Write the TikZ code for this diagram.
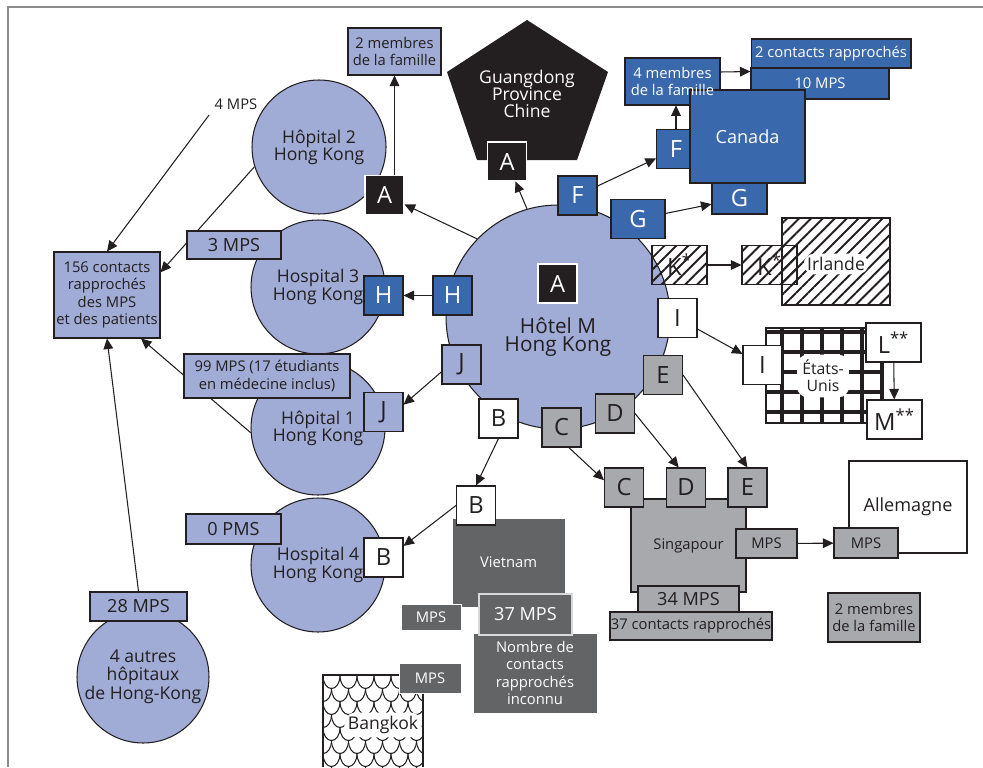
\documentclass[tikz,border=0pt]{standalone}
\usepackage{fontspec}
\setmainfont{Open Sans}
\usetikzlibrary{arrows.meta,patterns.meta}

\definecolor{hkblue}{RGB}{160,172,214}
\definecolor{canblue}{RGB}{58,104,172}
\definecolor{inkblack}{RGB}{35,31,32}
\definecolor{singray}{RGB}{167,169,172}
\definecolor{vietgray}{RGB}{98,100,102}
\definecolor{framegray}{RGB}{140,140,140}

\begin{document}
\begin{tikzpicture}[x=0.02cm,y=-0.02cm,
    every node/.style={inner sep=0pt,align=center,text=inkblack},
    outl/.style={draw=inkblack,line width=0.6pt},
    arr/.style={draw=inkblack,line width=0.6pt,-{Triangle[length=6pt,width=5.5pt]}},
    fbig/.style={font=\fontsize{13.5}{14}\selectfont},
    fhotel/.style={font=\fontsize{11.8}{10.5}\selectfont},
    fhosp/.style={font=\fontsize{10}{9.8}\selectfont},
    fmid/.style={font=\fontsize{10.3}{11}\selectfont},
    fsmall/.style={font=\fontsize{8.4}{9.8}\selectfont},
    hosp/.style={circle,outl,fill=hkblue,minimum size=2.68cm,fhosp},
    letbox/.style={outl,minimum width=0.78cm,minimum height=0.78cm,fbig},
    blackbox/.style={letbox,draw=white,fill=inkblack,text=white},
    bluebox/.style={letbox,fill=canblue,text=white},
    hkbox/.style={letbox,fill=hkblue},
    whitebox/.style={letbox,fill=white},
    graybox/.style={letbox,fill=singray},
    hatchfill/.style={pattern={Lines[angle=45,distance=4.8pt,line width=1.1pt]},pattern color=inkblack},
    hatchbox/.style={letbox,minimum width=1.1cm,hatchfill},
    vbox/.style={fill=vietgray,draw=white,line width=0.5pt,text=white,fsmall},
    knock/.style={fill=white,rounded corners=6pt,inner sep=2pt}
  ]
    \useasboundingbox (0,0) rectangle (983,767);
    \draw[framegray,line width=1.2pt] (983,7) -- (8,7) -- (8,767);

    % Guangdong
    \fill[inkblack] (527,20) -- (608,72) -- (577,160) -- (477,160) -- (447,72) -- cycle;
    \node[text=white,fhosp] (guang) at (527,94) {Guangdong\\Province\\Chine};

    % hospitals and hotel
    \node[hosp] (hosp2) at (319,147) {Hôpital 2\\Hong Kong};
    \node[hosp] (hosp3) at (318,287) {Hospital 3\\Hong Kong};
    \node[hosp] (hosp1) at (318,428) {Hôpital 1\\Hong Kong};
    \node[hosp] (hosp4) at (318,565) {Hospital 4\\Hong Kong};
    \node[hosp,minimum size=2.64cm] (autres) at (143,677) {4 autres\\hôpitaux\\de Hong-Kong};
    \node[circle,outl,fill=hkblue,minimum size=4.48cm] (hotel) at (558,317) {};
    \node[fhotel] (hoteltxt) at (558,337) {Hôtel M\\Hong Kong};

    % contacts on the left
    \node[outl,fill=hkblue,fsmall,minimum width=2.12cm,minimum height=1.72cm] (c156) at (107,295) {156 contacts\\rapprochés\\des MPS\\et des patients};
    \node[outl,fill=hkblue,fsmall,minimum width=1.86cm,minimum height=0.94cm] (fam2) at (394.5,51.5) {2 membres\\de la famille};
    \node[fsmall,inner sep=3pt] (mps4) at (236,104) {4 MPS};
    \node[outl,fill=hkblue,fmid,minimum width=1.94cm,minimum height=0.58cm] (mps28) at (138.5,606.5) {28 MPS};

    \draw[arr] (mps4.south west) -- (c156.north);
    \draw[arr] (hosp2.197) -- (c156.23);
    \draw[arr] (hosp1.184) -- (c156.-52);
    \draw[arr] (mps28.north) -- (c156.south);

    \node[outl,fill=hkblue,fmid,minimum width=1.88cm,minimum height=0.56cm] (mps3) at (234,245) {3 MPS};
    \node[outl,fill=hkblue,fsmall,minimum width=3.32cm,minimum height=0.88cm] (mps99) at (267,376) {99 MPS (17 étudiants\\en médecine inclus)};
    \node[outl,fill=hkblue,fmid,minimum width=1.9cm,minimum height=0.6cm] (pms0) at (233.5,529) {0 PMS};

    % letter boxes round the hotel
    \node[blackbox] (Ah2) at (384.5,195) {A};
    \node[blackbox] (Apent) at (507,161.5) {A};
    \node[blackbox] (Ahot) at (557.5,283.5) {A};
    \node[bluebox] (Fhot) at (577.5,195.5) {F};
    \node[bluebox,minimum width=1.08cm] (Ghot) at (638,219) {G};
    \node[bluebox] (Hhot) at (452.5,295.5) {H};
    \node[bluebox] (Hh3) at (383.5,295.5) {H};
    \node[hkbox] (Jhot) at (461.5,364.5) {J};
    \node[hkbox] (Jh1) at (383.5,412) {J};
    \node[whitebox] (Bhot) at (498.5,418.5) {B};
    \node[graybox] (Chot) at (561.5,427.5) {C};
    \node[graybox] (Dhot) at (615,413.5) {D};
    \node[graybox] (Ehot) at (663,375) {E};
    \node[whitebox] (Ihot) at (677.5,318) {I};
    \node[hatchbox] (Khot) at (679.5,265) {K\textsuperscript{*}};
    \node[whitebox] (Bh4) at (383.5,557.5) {B};

    % Canada
    \draw[fill=canblue,draw=inkblack,line width=1.6pt] (625,58) rectangle (720,105);
    \node[bluebox] (Fcan) at (676,149) {F};
    \node[outl,fill=canblue,text=white,fsmall,minimum width=3.2cm,minimum height=0.58cm] (c2) at (831,53.5) {2 contacts rapprochés};
    \node[outl,fill=canblue,text=white,fsmall,minimum width=2.76cm,minimum height=0.62cm] (mps10) at (820,83.5) {10 MPS};
    \node[outl,fill=canblue,text=white,fmid,minimum width=2.3cm,minimum height=1.86cm] (canada) at (747.5,136.5) {Canada};
    \node[bluebox,minimum width=1.1cm,minimum height=0.62cm] (Gcan) at (739.5,198.5) {G};
    \node[text=white,fsmall,minimum width=1.9cm,minimum height=0.94cm] (fam4) at (672.5,81.5) {4 membres\\de la famille};

    % Irlande
    \draw[outl,hatchfill] (782,218) rectangle (890,305);
    \node[knock,fhosp] (irl) at (836,264) {Irlande};
    \node[hatchbox] (Kirl) at (769.5,265) {K\textsuperscript{*}};

    % Etats-Unis
    \draw[outl,fill=white] (766,328) rectangle (882,423);
    \foreach \gx in {782,802,...,882} \draw[inkblack,line width=1.8pt] (\gx,328) -- (\gx,423);
    \foreach \gy in {332,352,...,412} \draw[inkblack,line width=1.8pt] (766,\gy) -- (882,\gy);
    \node[knock,font=\fontsize{9}{9.8}\selectfont,inner sep=3pt] (usa) at (823,376) {États-\\Unis};
    \node[whitebox] (Ius) at (762.5,365) {I};
    \node[whitebox,minimum width=1.1cm] (Lus) at (893.5,342.5) {L\textsuperscript{**}};
    \node[whitebox,minimum width=1.1cm] (Mus) at (894.5,419.5) {M\textsuperscript{**}};

    % Singapour
    \node[outl,fill=singray,fsmall,minimum width=2.3cm,minimum height=1.86cm] (sing) at (688.5,545.5) {Singapour};
    \node[graybox] (Csing) at (624,487.5) {C};
    \node[graybox] (Dsing) at (686,487.5) {D};
    \node[graybox] (Esing) at (747.5,487.5) {E};
    \node[outl,fill=singray,fsmall,minimum width=1.22cm,minimum height=0.58cm] (mpsSing) at (766.5,543.5) {MPS};
    \node[outl,fill=singray,fsmall,minimum width=3.24cm,minimum height=0.56cm] (c37) at (691,626) {37 contacts rapprochés};
    \node[outl,fill=singray,fmid,minimum width=2.02cm,minimum height=0.52cm] (mps34) at (688.5,599) {34 MPS};

    % Allemagne
    \node[outl,fill=white,fmid,minimum width=2.36cm,minimum height=1.84cm] (allem) at (908,507) {Allemagne};
    \node[outl,fill=singray,fsmall,minimum width=1.28cm,minimum height=0.6cm] (mpsAll) at (866,543) {MPS};
    \node[outl,fill=singray,fsmall,minimum width=1.84cm,minimum height=0.98cm] (fam2g) at (874,617.5) {2 membres\\de la famille};

    % Vietnam
    \node[vbox,minimum width=2.26cm,minimum height=1.78cm] (viet) at (508.5,562.5) {Vietnam};
    \node[whitebox] (Bviet) at (476,505.5) {B};
    \node[vbox,minimum width=2.48cm,minimum height=1.6cm] (nombre) at (535,673) {Nombre de\\contacts\\rapprochés\\inconnu};
    \node[vbox,draw=white!85!black,line width=1pt,fmid,minimum width=1.86cm,minimum height=0.82cm] (mps37) at (525.5,614.5) {37 MPS};
    \node[vbox,minimum width=1.2cm,minimum height=0.52cm] (mpsV) at (431,617) {MPS};

    % Bangkok
    \begin{scope}
      \clip (323,675) rectangle (423,767);
      \foreach \row in {0,...,7}
        \foreach \col in {-1,...,6} {
          \pgfmathsetmacro\scx{323+17*\col+8.5*mod(\row,2)}
          \pgfmathsetmacro\scy{675+13*\row}
          \draw[inkblack,line width=0.6pt] (\scx,\scy) .. controls (\scx,\scy+18) and (\scx+17,\scy+18) .. (\scx+17,\scy);
        }
    \end{scope}
    \draw[outl] (323,767) -- (323,675) -- (423,675) -- (423,767);
    \node[knock,fhosp] (bkk) at (383,725) {Bangkok};
    \node[vbox,minimum width=1.24cm,minimum height=0.6cm] (mpsB) at (430,678) {MPS};

    % arrows
    \draw[arr] (fam2.south |- Ah2.north) -- (fam2.south);
    \draw[arr] (hotel.136) -- (Ah2);
    \draw[arr] (hotel.106) -- (Apent);
    \draw[arr] (Fhot) -- (Fcan);
    \draw[arr] (Ghot) -- (Gcan);
    \draw[arr] (Fcan) -- (Fcan |- fam4.south);
    \draw[arr] (fam4.east) ++(0,-9.5) -- ([yshift=-2.3pt]mps10.north west);
    \draw[arr] (Hhot) -- (Hh3);
    \draw[arr] (Jhot.200) -- (Jh1.20);
    \draw[arr] (Bhot.south) -- (Bviet.north);
    \draw[arr] (Bviet.west) -- (Bh4.30);
    \draw[arr] (Chot.-70) -- (Csing.160);
    \draw[arr] (Dhot.east) -- (Dsing.110);
    \draw[arr] (Ehot.east) -- (Esing.north);
    \draw[arr] (Ihot) -- (Ius);
    \draw[arr] (Khot) -- (Kirl);
    \draw[arr] (Lus) -- (Mus);
    \draw[arr] (mpsSing) -- (mpsAll);
\end{tikzpicture}
\end{document}
